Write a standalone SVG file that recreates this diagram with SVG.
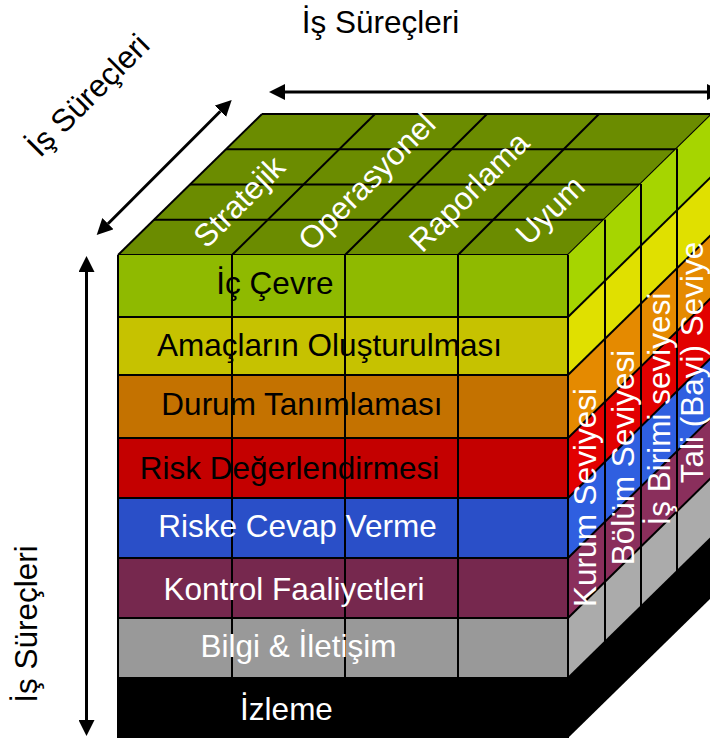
<svg xmlns="http://www.w3.org/2000/svg" width="710" height="738" viewBox="0 0 710 738">
<style>
text{font-family:"Liberation Sans",Arial,sans-serif;font-size:31.5px}
.w{fill:#fff}
.k{fill:#000}
.ln{stroke:#000;stroke-width:2;fill:none}
.arr{stroke:#000;stroke-width:3;fill:none;marker-start:url(#ah);marker-end:url(#ah)}
</style>
<defs>
<marker id="ah" markerUnits="userSpaceOnUse" markerWidth="16" markerHeight="16" viewBox="0 0 16 16" refX="0" refY="8" orient="auto-start-reverse">
<path d="M0,0 L16,8 L0,16 z" fill="#000"/>
</marker>
</defs>
<rect width="710" height="738" fill="#fff"/>

<g id="top-face">
<polygon points="118,255 262,114 712,114 568,255" fill="#6b8c00"/>
<g class="ln">
<line x1="154" y1="219.75" x2="604" y2="219.75"/>
<line x1="190" y1="184.5" x2="640" y2="184.5"/>
<line x1="226" y1="149.25" x2="676" y2="149.25"/>
<line x1="262" y1="114" x2="712" y2="114"/>
<line x1="118" y1="255" x2="568" y2="255"/>
<line x1="118" y1="255" x2="262" y2="114"/>
<line x1="232" y1="255" x2="375" y2="114"/>
<line x1="345" y1="255" x2="487" y2="114"/>
<line x1="458" y1="255" x2="599" y2="114"/>
<line x1="568" y1="255" x2="712" y2="114"/>
</g>
<text class="w" text-anchor="middle" transform="translate(239,201.5) rotate(-45)" y="11">Stratejik</text>
<text class="w" text-anchor="middle" transform="translate(366.5,181.5) rotate(-45)" y="11">Operasyonel</text>
<text class="w" text-anchor="middle" transform="translate(469,191.5) rotate(-45)" y="11">Raporlama</text>
<text class="w" text-anchor="middle" transform="translate(550,210) rotate(-45)" y="11">Uyum</text>
</g>

<g id="side-face">
<polygon points="568,255 712,114 712,176 568,317" fill="#a6d500"/>
<polygon points="568,317 712,176 712,234 568,375" fill="#e0e000"/>
<polygon points="568,375 712,234 712,297 568,438" fill="#e58a00"/>
<polygon points="568,438 712,297 712,357 568,498" fill="#e20000"/>
<polygon points="568,498 712,357 712,417 568,558" fill="#2f5fe0"/>
<polygon points="568,558 712,417 712,477 568,618" fill="#8a2f5c"/>
<polygon points="568,618 712,477 712,537 568,678" fill="#ababab"/>
<polygon points="568,678 712,537 712,597 568,738" fill="#000"/>
<g class="ln">
<line x1="568" y1="317" x2="712" y2="176"/>
<line x1="568" y1="375" x2="712" y2="234"/>
<line x1="568" y1="438" x2="712" y2="297"/>
<line x1="568" y1="498" x2="712" y2="357"/>
<line x1="568" y1="558" x2="712" y2="417"/>
<line x1="568" y1="618" x2="712" y2="477"/>
<line x1="568" y1="678" x2="712" y2="537"/>
<line x1="605" y1="219.5" x2="605" y2="642.5"/>
<line x1="641" y1="184" x2="641" y2="607"/>
<line x1="677" y1="148.5" x2="677" y2="571.5"/>
</g>
</g>

<g id="front-face">
<rect x="118" y="255" width="450" height="62" fill="#8fba00"/>
<rect x="118" y="317" width="450" height="58" fill="#c6c200"/>
<rect x="118" y="375" width="450" height="63" fill="#c47200"/>
<rect x="118" y="438" width="450" height="60" fill="#c40000"/>
<rect x="118" y="498" width="450" height="60" fill="#2a4fc8"/>
<rect x="118" y="558" width="450" height="60" fill="#76284e"/>
<rect x="118" y="618" width="450" height="60" fill="#999999"/>
<rect x="118" y="678" width="450" height="60" fill="#000"/>
<g class="ln">
<line x1="118" y1="317" x2="568" y2="317"/>
<line x1="118" y1="375" x2="568" y2="375"/>
<line x1="118" y1="438" x2="568" y2="438"/>
<line x1="118" y1="498" x2="568" y2="498"/>
<line x1="118" y1="558" x2="568" y2="558"/>
<line x1="118" y1="618" x2="568" y2="618"/>
<line x1="118" y1="678" x2="568" y2="678"/>
<line x1="232" y1="255" x2="232" y2="678"/>
<line x1="345" y1="255" x2="345" y2="678"/>
<line x1="458" y1="255" x2="458" y2="678"/>
<line x1="568" y1="255" x2="568" y2="738"/>
<line x1="118" y1="255" x2="118" y2="738"/>
</g>
</g>

<g id="row-ic-cevre"><text class="k" x="275" y="294" text-anchor="middle">İç Çevre</text></g>
<g id="row-amaclar"><text class="k" x="329.5" y="356" text-anchor="middle">Amaçların Oluşturulması</text></g>
<g id="row-durum"><text class="k" x="302" y="415" text-anchor="middle">Durum Tanımlaması</text></g>
<g id="row-risk"><text class="k" x="289.5" y="479" text-anchor="middle">Risk Değerlendirmesi</text></g>
<g id="row-cevap"><text class="w" x="297.5" y="537" text-anchor="middle">Riske Cevap Verme</text></g>
<g id="row-kontrol"><text class="w" x="294" y="600" text-anchor="middle">Kontrol Faaliyetleri</text></g>
<g id="row-bilgi"><text class="w" x="298.5" y="657" text-anchor="middle">Bilgi &amp; İletişim</text></g>
<g id="row-izleme"><text class="w" x="286.5" y="720" text-anchor="middle">İzleme</text></g>

<g id="side-labels">
<text class="w" text-anchor="middle" transform="translate(596,497.5) rotate(-90)">Kurum Seviyesi</text>
<text class="w" text-anchor="middle" transform="translate(633.5,457.5) rotate(-90)">Bölüm Seviyesi</text>
<text class="w" text-anchor="middle" transform="translate(670,409) rotate(-90)">İş Birimi seviyesi</text>
<text class="w" text-anchor="middle" transform="translate(702.5,362.5) rotate(-90)">Tali (Bayi) Seviye</text>
</g>

<g id="connectors">
<line class="arr" x1="285" y1="92" x2="707" y2="92"/>
<line class="arr" x1="108" y1="223.7" x2="220.4" y2="111.3"/>
<line class="arr" x1="86.5" y1="272" x2="86.5" y2="720"/>
</g>

<g id="axis-labels">
<text class="k" x="380.5" y="33" text-anchor="middle">İş Süreçleri</text>
<text class="k" text-anchor="middle" transform="translate(88,95) rotate(-45)" y="11">İş Süreçleri</text>
<text class="k" text-anchor="middle" transform="translate(37,624) rotate(-90)">İş Süreçleri</text>
</g>
</svg>
